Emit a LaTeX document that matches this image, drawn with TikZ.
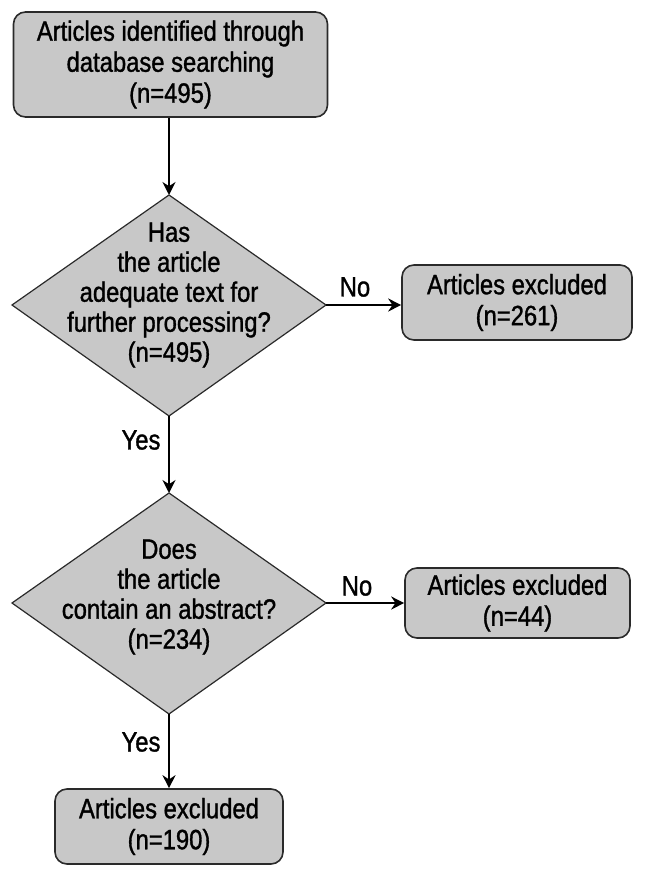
\documentclass[tikz,border=0pt]{standalone}
\usepackage{fontspec}
\setmainfont{Liberation Sans}[FakeStretch=0.85, FakeBold=1.2]
\usetikzlibrary{shapes.geometric,arrows.meta}
\definecolor{boxfill}{HTML}{C8C8C8}
\definecolor{boxline}{HTML}{2A2A2A}
\tikzset{
  rbox/.style={draw=boxline, line width=1.6pt, fill=boxfill, rounded corners=12pt, align=center, inner sep=0pt, font=\fontsize{28}{31}\selectfont},
  dbox/.style={draw=boxline, line width=1.2pt, fill=boxfill},
  conn/.style={line width=1.6pt, -{Stealth[length=13pt,width=13pt]}},
  lbl/.style={font=\fontsize{28}{31}\selectfont},
  txt/.style={align=center, font=\fontsize{28}{30}\selectfont}
}
\begin{document}
\begin{tikzpicture}[x=1pt,y=-1pt]
\useasboundingbox (0,0) rectangle (646,877);
% top box
\node[rbox, minimum width=314pt, minimum height=105pt] (top) at (170.5,64.5) {Articles identified through\\database searching\\(n=495)};
% diamond 1
\path[dbox] (12,305) -- (169,195) -- (326,305) -- (169,416) -- cycle;
\coordinate (d1t) at (169,195);
\coordinate (d1r) at (326,305);
\coordinate (d1b) at (169,416);
\node[txt] (d1) at (169,295) {Has\\the article\\adequate text for\\further processing?\\(n=495)};
% box 261
\node[rbox, minimum width=230pt, minimum height=75pt] (ex1) at (517,302.5) {Articles excluded\\(n=261)};
% diamond 2
\path[dbox] (12,603) -- (169,493) -- (326,603) -- (169,714) -- cycle;
\coordinate (d2t) at (169,493);
\coordinate (d2r) at (326,603);
\coordinate (d2b) at (169,714);
\node[txt] (d2) at (169,597) {Does\\the article\\contain an abstract?\\(n=234)};
% box 44
\node[rbox, minimum width=225pt, minimum height=70pt] (ex2) at (517.5,603) {Articles excluded\\(n=44)};
% bottom box
\node[rbox, minimum width=228pt, minimum height=75pt] (ex3) at (169,826.5) {Articles excluded\\(n=190)};
% connectors
\draw[conn] (top.south -| d1t) -- (d1t);
\draw[conn] (d1r) -- (ex1.west |- d1r);
\draw[conn] (d1b) -- (d2t);
\draw[conn] (d2r) -- (ex2.west |- d2r);
\draw[conn] (d2b) -- (ex3.north -| d2b);
% labels
\node[lbl] (no1) at (355,287) {No};
\node[lbl] (yes1) at (141,440) {Yes};
\node[lbl] (no2) at (357,586) {No};
\node[lbl] (yes2) at (141,742) {Yes};
\end{tikzpicture}
\end{document}
